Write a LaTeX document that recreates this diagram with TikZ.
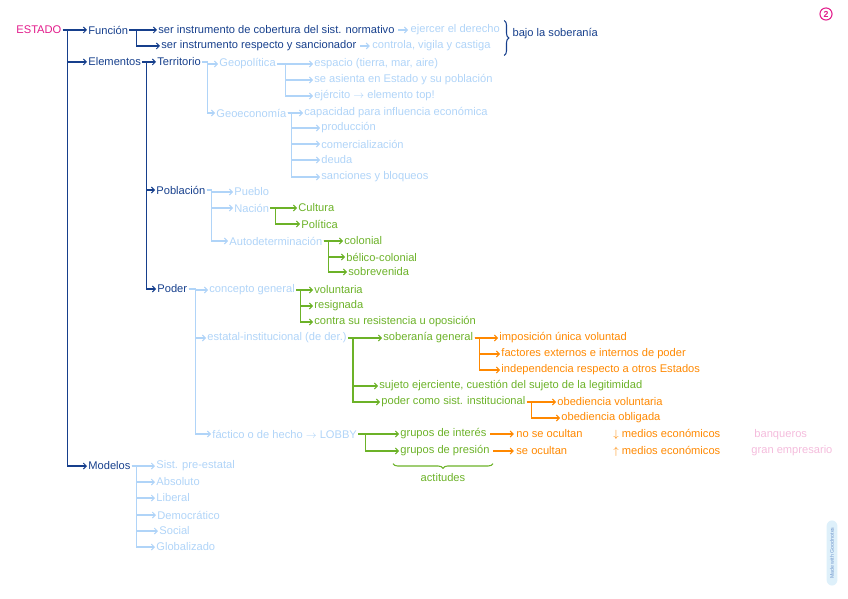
\documentclass[tikz,border=0pt]{standalone}
\usepackage{fontspec}
\setsansfont{Liberation Sans}
\usetikzlibrary{arrows.meta,decorations.pathreplacing,calc,positioning}
\definecolor{estmag}{RGB}{226,28,139}
\definecolor{estdeep}{RGB}{22,63,140}
\definecolor{estsky}{RGB}{176,212,248}
\definecolor{estleaf}{RGB}{108,178,40}
\definecolor{estorange}{RGB}{255,136,0}
\definecolor{estpink}{RGB}{244,188,220}
\definecolor{estbadge}{RGB}{222,240,250}

\begin{document}
\begin{tikzpicture}[x=0.03cm,y=-0.03cm,
  every node/.style={font=\sffamily\fontsize{9.5}{11}\selectfont,anchor=west,inner sep=1pt},
  deep/.style={text=estdeep},
  sky/.style={text=estsky},
  leaf/.style={text=estleaf},
  orng/.style={text=estorange},
  link/.style={line width=0.9pt,-{Straight Barb[length=2.5pt,width=5pt]}},
  hop/.style={line width=0.9pt,-{Straight Barb[length=2.5pt,width=5pt]},shorten >=1pt,shorten <=2pt},
  curly/.style={line width=0.9pt,decorate,decoration={brace,amplitude=4pt}}]
\useasboundingbox (0,0) rectangle (848,599);

% root and first level
\node[text=estmag] (estado) at (15,30) {ESTADO};
\node[deep] (funcion) at (87,30) {Función};
\node[deep] (elementos) at (87,62) {Elementos};
\node[deep] (modelos) at (87,466) {Modelos};
\draw[link,estdeep] (estado.east) -- ++(5,0) |- (funcion.west);
\draw[link,estdeep] (estado.east) -- ++(5,0) |- (elementos.west);
\draw[link,estdeep] (estado.east) -- ++(5,0) |- (modelos.west);

% funcion
\node[deep] (serA) at (157,30) {ser instrumento de cobertura del sist. normativo};
\node[deep] (serB) at (160,46) {ser instrumento respecto y sancionador};
\node[sky,right=4mm of serA] (ejercer) {ejercer el derecho};
\node[sky,right=4mm of serB] (controla) {controla, vigila y castiga};
\draw[link,estdeep] (funcion.east) -- ++(7,0) |- (serA.west);
\draw[link,estdeep] (funcion.east) -- ++(7,0) |- (serB.west);
\draw[hop,estsky] (serA.east) -- (ejercer.west); \draw[hop,estsky] (serB.east) -- (controla.west);
\draw[curly,estdeep] ($(ejercer.north east)+(3,-3)$) -- ($(ejercer.east |- controla.south)+(3,3)$) coordinate[midway] (bajomid);
\node[deep] (bajo) at ($(bajomid)+(7,-4)$) {bajo la soberanía};

% elementos
\node[deep] (territorio) at (156,62) {Territorio};
\node[deep] (poblacion) at (155,190) {Población};
\node[deep] (poder) at (156,289) {Poder};
\draw[link,estdeep] (elementos.east) -- ++(4,0) |- (territorio.west);
\draw[link,estdeep] (elementos.east) -- ++(4,0) |- (poblacion.west);
\draw[link,estdeep] (elementos.east) -- ++(4,0) |- (poder.west);

% territorio
\node[sky] (geopol) at (218,64) {Geopolítica};
\node[sky] (geoeco) at (215,113) {Geoeconomía};
\draw[link,estsky] (territorio.east) -- ++(5,0) |- (geopol.west);
\draw[link,estsky] (territorio.east) -- ++(5,0) |- (geoeco.west);
\node[sky] (espacio) at (313,64) {espacio (tierra, mar, aire)};
\node[sky] (asienta) at (313,80) {se asienta en Estado y su población};
\node[sky] (ejercito) at (313,96) {ejército $\rightarrow$ elemento top!};
\draw[link,estsky] (geopol.east) -- ++(8,0) |- (espacio.west);
\draw[link,estsky] (geopol.east) -- ++(8,0) |- (asienta.west);
\draw[link,estsky] (geopol.east) -- ++(8,0) |- (ejercito.west);
\node[sky] (capacidad) at (303,113) {capacidad para influencia económica};
\node[sky] (produccion) at (320,128) {producción};
\node[sky] (comercio) at (320,144) {comercialización};
\node[sky] (deuda) at (320,160) {deuda};
\node[sky] (sanciones) at (320,177) {sanciones y bloqueos};
\draw[link,estsky] (geoeco.east) -- ++(4,0) |- (capacidad.west);
\draw[link,estsky] (geoeco.east) -- ++(4,0) |- (produccion.west);
\draw[link,estsky] (geoeco.east) -- ++(4,0) |- (comercio.west);
\draw[link,estsky] (geoeco.east) -- ++(4,0) |- (deuda.west);
\draw[link,estsky] (geoeco.east) -- ++(4,0) |- (sanciones.west);

% poblacion
\node[sky] (pueblo) at (233,192) {Pueblo};
\node[sky] (nacion) at (233,208) {Nación};
\node[sky] (autodet) at (228,241) {Autodeterminación};
\draw[link,estsky] (poblacion.east) -- ++(5,0) |- (pueblo.west);
\draw[link,estsky] (poblacion.east) -- ++(5,0) |- (nacion.west);
\draw[link,estsky] (poblacion.east) -- ++(5,0) |- (autodet.west);
\node[leaf] (cultura) at (297,208) {Cultura};
\node[leaf] (politica) at (300,224) {Política};
\draw[link,estleaf] (nacion.east) -- ++(5,0) |- (cultura.west);
\draw[link,estleaf] (nacion.east) -- ++(5,0) |- (politica.west);
\node[leaf] (colonial) at (343,241) {colonial};
\node[leaf] (belico) at (345,257) {bélico-colonial};
\node[leaf] (sobrevenida) at (347,272) {sobrevenida};
\draw[link,estleaf] (autodet.east) -- ++(5,0) |- (colonial.west);
\draw[link,estleaf] (autodet.east) -- ++(5,0) |- (belico.west);
\draw[link,estleaf] (autodet.east) -- ++(5,0) |- (sobrevenida.west);

% poder
\node[sky] (concepto) at (208,290) {concepto general};
\node[sky] (estatal) at (206,338) {estatal-institucional (de der.)};
\node[sky] (factico) at (211,434) {fáctico o de hecho $\rightarrow$ LOBBY};
\draw[link,estsky] (poder.east) -- ++(7,0) |- (concepto.west);
\draw[link,estsky] (poder.east) -- ++(7,0) |- (estatal.west);
\draw[link,estsky] (poder.east) -- ++(7,0) |- (factico.west);
\node[leaf] (voluntaria) at (313,290) {voluntaria};
\node[leaf] (resignada) at (313,306) {resignada};
\node[leaf] (contra) at (313,322) {contra su resistencia u oposición};
\draw[link,estleaf] (concepto.east) -- ++(4,0) |- (voluntaria.west);
\draw[link,estleaf] (concepto.east) -- ++(4,0) |- (resignada.west);
\draw[link,estleaf] (concepto.east) -- ++(4,0) |- (contra.west);
\node[leaf] (soberania) at (382,338) {soberanía general};
\node[leaf] (sujeto) at (378,386) {sujeto ejerciente, cuestión del sujeto de la legitimidad};
\node[leaf] (podercomo) at (380,402) {poder como sist. institucional};
\draw[link,estleaf] (estatal.east) -- ++(5,0) |- (soberania.west);
\draw[link,estleaf] (estatal.east) -- ++(5,0) |- (sujeto.west);
\draw[link,estleaf] (estatal.east) -- ++(5,0) |- (podercomo.west);
\node[orng] (imposicion) at (498,338) {imposición única voluntad};
\node[orng] (factores) at (500,354) {factores externos e internos de poder};
\node[orng] (independ) at (500,370) {independencia respecto a otros Estados};
\draw[link,estorange] (soberania.east) -- ++(5,0) |- (imposicion.west);
\draw[link,estorange] (soberania.east) -- ++(5,0) |- (factores.west);
\draw[link,estorange] (soberania.east) -- ++(5,0) |- (independ.west);
\node[orng] (obvol) at (556,402) {obediencia voluntaria};
\node[orng] (obobl) at (560,418) {obediencia obligada};
\draw[link,estorange] (podercomo.east) -- ++(5,0) |- (obvol.west);
\draw[link,estorange] (podercomo.east) -- ++(5,0) |- (obobl.west);

% lobby
\node[leaf] (interes) at (399,434) {grupos de interés};
\node[leaf] (presion) at (399,451) {grupos de presión};
\draw[link,estleaf] (factico.east) -- ++(7,0) |- (interes.west);
\draw[link,estleaf] (factico.east) -- ++(7,0) |- (presion.west);
\node[orng] (noocultan) at (515,434) {no se ocultan};
\node[orng] (ocultan) at (515,451) {se ocultan};
\draw[hop,estorange] (interes.east) -- (noocultan.west); \draw[hop,estorange] (presion.east) -- (ocultan.west);
\node[orng] (menos) at (612,434) {$\downarrow$ medios económicos};
\node[orng] (mas) at (612,451) {$\uparrow$ medios económicos};
\node[text=estpink] (banqueros) at (753,435) {banqueros};
\node[text=estpink] (empresario) at (750,451) {gran empresario};
\draw[curly,estleaf] ($(presion.south east)+(2,6)$) -- ($(presion.south west)+(-6,6)$) coordinate[midway] (actmid);
\node[leaf,anchor=north] (actitudes) at ($(actmid)+(0,8)$) {actitudes};

% modelos
\node[sky] (preestatal) at (155,466) {Sist. pre-estatal};
\node[sky] (absoluto) at (155,482) {Absoluto};
\node[sky] (liberal) at (155,498) {Liberal};
\node[sky] (democratico) at (156,515) {Democrático};
\node[sky] (social) at (158,531) {Social};
\node[sky] (globalizado) at (155,547) {Globalizado};
\draw[link,estsky] (modelos.east) -- ++(5,0) |- (preestatal.west);
\draw[link,estsky] (modelos.east) -- ++(5,0) |- (absoluto.west);
\draw[link,estsky] (modelos.east) -- ++(5,0) |- (liberal.west);
\draw[link,estsky] (modelos.east) -- ++(5,0) |- (democratico.west);
\draw[link,estsky] (modelos.east) -- ++(5,0) |- (social.west);
\draw[link,estsky] (modelos.east) -- ++(5,0) |- (globalizado.west);

% page mark and badge
\node[anchor=center,circle,draw=estmag,line width=0.9pt,text=estmag,inner sep=1.3pt,font=\sffamily\bfseries\fontsize{7.5}{8}\selectfont] (pagina) at (826,14) {2};
\node[anchor=center,rotate=90,fill=estbadge,rounded corners=5pt,text=estsky!60!estdeep,inner xsep=6pt,inner ysep=3pt,font=\sffamily\fontsize{4.5}{5}\selectfont] (badge) at (832,553) {Made with Goodnotes};
\end{tikzpicture}
\end{document}
